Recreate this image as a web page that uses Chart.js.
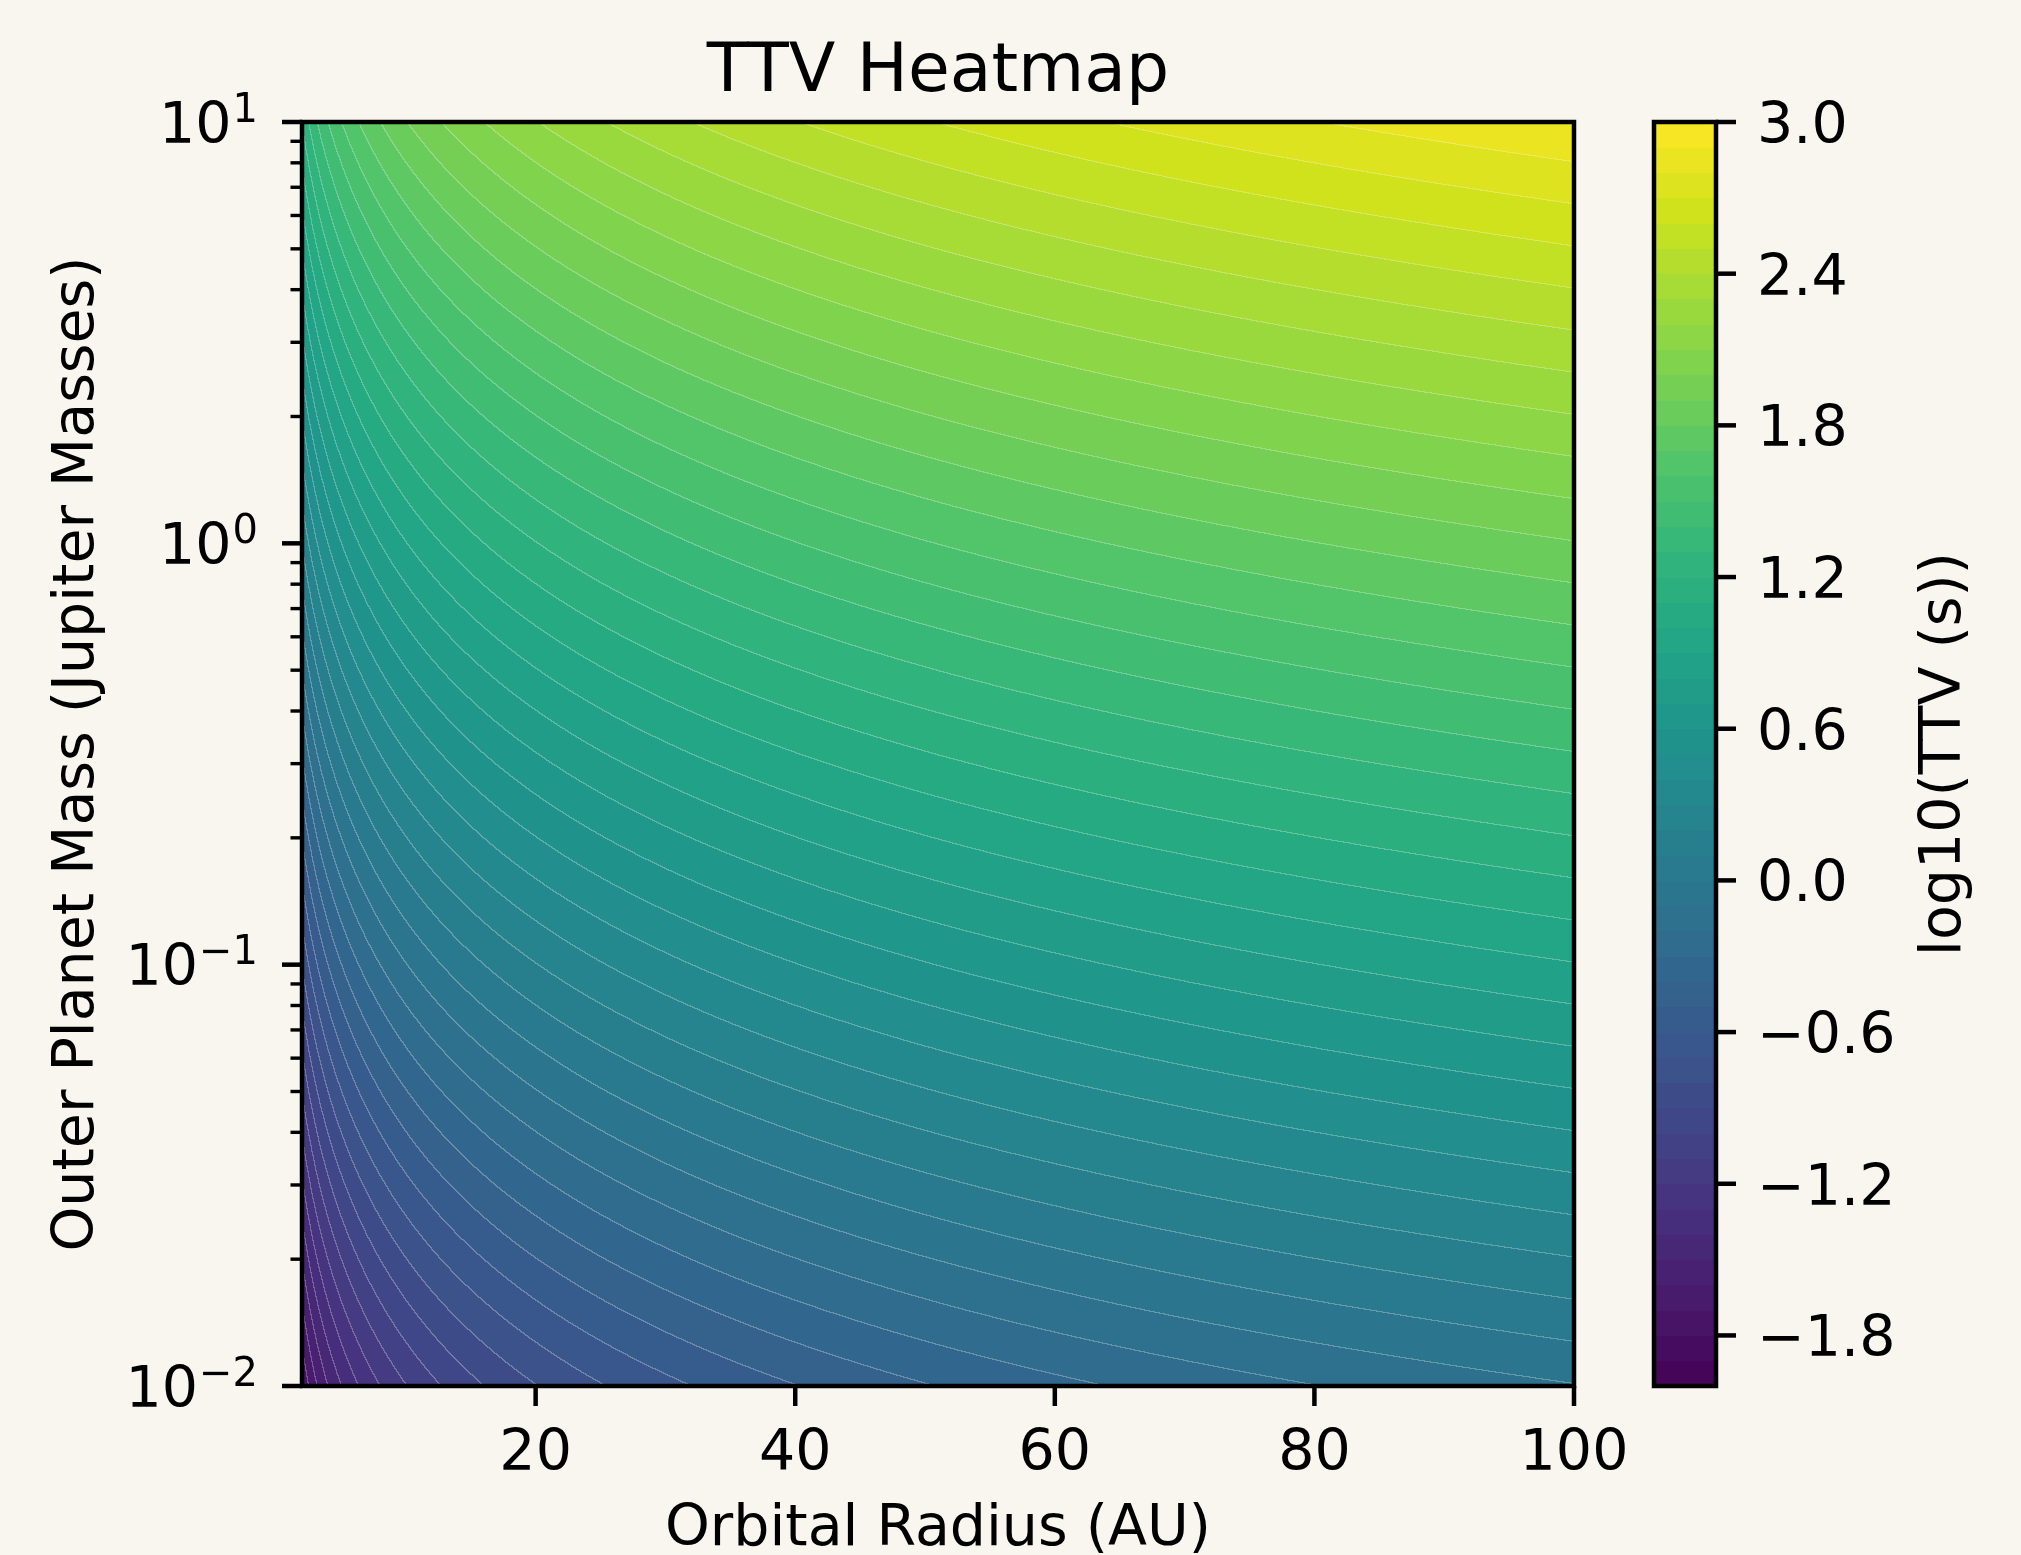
<!DOCTYPE html>
<html><head><meta charset="utf-8">
<script src="https://cdn.jsdelivr.net/npm/chart.js@4.4.1/dist/chart.umd.min.js"></script>
<style>html,body{margin:0;padding:0;background:#f9f6f0;}canvas{display:block;}</style>
</head><body>
<canvas id="c" width="2021" height="1555" style="width:2021px;height:1555px"></canvas>
<script>
// ---- data (log10 TTV in seconds) ----
const radiiAU = [2, 3, 4, 5, 6, 8, 10, 13, 16, 20, 25, 30, 35, 40, 50, 60, 70, 80, 90, 100];
const massesMJ = [0.01, 0.1, 1, 10];
const logTTV_m0_01 = [-1.804, -1.628, -1.503, -1.406, -1.327, -1.202, -1.105, -0.991, -0.901, -0.804, -0.707, -0.628, -0.561, -0.503, -0.406, -0.327, -0.260, -0.202, -0.151, -0.105];
const logTTV_m0_1  = [-0.804, -0.628, -0.503, -0.406, -0.327, -0.202, -0.105, 0.009, 0.099, 0.196, 0.293, 0.372, 0.439, 0.497, 0.594, 0.673, 0.740, 0.798, 0.849, 0.895];
const logTTV_m1    = [0.196, 0.372, 0.497, 0.594, 0.673, 0.798, 0.895, 1.009, 1.099, 1.196, 1.293, 1.372, 1.439, 1.497, 1.594, 1.673, 1.740, 1.798, 1.849, 1.895];
const logTTV_m10   = [1.196, 1.372, 1.497, 1.594, 1.673, 1.798, 1.895, 2.009, 2.099, 2.196, 2.293, 2.372, 2.439, 2.497, 2.594, 2.673, 2.740, 2.798, 2.849, 2.895];
const xTicks = [20, 40, 60, 80, 100];
const xTickLabels = ['20', '40', '60', '80', '100'];
const yMajorTicks = [0.01, 0.1, 1, 10];
const yMajorExponents = ['\u22122', '\u22121', '0', '1'];
const yMinorTicks = [0.02,0.03,0.04,0.05,0.06,0.07,0.08,0.09, 0.2,0.3,0.4,0.5,0.6,0.7,0.8,0.9, 2,3,4,5,6,7,8,9];
const cbTicks = [-1.8, -1.2, -0.6, 0.0, 0.6, 1.2, 1.8, 2.4, 3.0];
const cbTickLabels = ['\u22121.8', '\u22121.2', '\u22120.6', '0.0', '0.6', '1.2', '1.8', '2.4', '3.0'];
const levelMin = -2.0, levelMax = 3.0, nBands = 50;

const TITLE = 'TTV Heatmap';
const XLABEL = 'Orbital Radius (AU)';
const YLABEL = 'Outer Planet Mass (Jupiter Masses)';
const CBLABEL = 'log10(TTV (s))';

// ---- style ----
const BG = '#f9f6f0';
const FONT = '"DejaVu Sans", sans-serif';
const viridisStops = ['#440154','#481a6c','#472f7d','#414487','#39568c','#31688e','#2a788e','#23888e','#1f988b','#22a884','#35b779','#54c568','#7ad151','#a5db36','#d2e21b','#fde725'];
function hex2rgb(h){return [parseInt(h.slice(1,3),16),parseInt(h.slice(3,5),16),parseInt(h.slice(5,7),16)];}
const vStops = viridisStops.map(hex2rgb);
function viridis(t){
  t = Math.max(0, Math.min(1, t));
  const f = t * (vStops.length - 1); const i = Math.min(vStops.length - 2, Math.floor(f)); const u = f - i;
  return [0,1,2].map(k => Math.round(vStops[i][k] + (vStops[i+1][k] - vStops[i][k]) * u));
}
const bandColors = [];
for (let i = 0; i < nBands; i++) bandColors.push(viridis((i + 0.5) / nBands));
const bgRGB = hex2rgb(BG);

const CB = {left: 1654, right: 1716};

const heatPlugin = {
  id: 'heat',
  beforeDraw(chart) {
    const ctx = chart.ctx;
    ctx.save(); ctx.fillStyle = BG; ctx.fillRect(0, 0, chart.width, chart.height); ctx.restore();
  },
  afterDraw(chart) {
    const ctx = chart.ctx;
    const xs = chart.scales.x, ys = chart.scales.y, cs = chart.scales.cb;
    const L = Math.round(chart.chartArea.left), T = Math.round(chart.chartArea.top);
    const R = Math.round(chart.chartArea.right), B = Math.round(chart.chartArea.bottom);
    const W = R - L, H = B - T;
    const lr = radiiAU.map(Math.log10), lmv = massesMJ.map(Math.log10);
    const rows = [logTTV_m0_01, logTTV_m0_1, logTTV_m1, logTTV_m10];
    function locate(arr, v) {
      let i = 0; while (i < arr.length - 2 && v > arr[i+1]) i++;
      let t = (v - arr[i]) / (arr[i+1] - arr[i]); t = Math.max(0, Math.min(1, t));
      return [i, t];
    }
    const ci = new Int32Array(W), ct = new Float64Array(W);
    for (let px = 0; px < W; px++) { const [i,t] = locate(lr, Math.log10(xs.getValueForPixel(L + px + 0.5))); ci[px] = i; ct[px] = t; }
    const ri = new Int32Array(H), rt = new Float64Array(H);
    for (let py = 0; py < H; py++) { const [j,t] = locate(lmv, Math.log10(ys.getValueForPixel(T + py + 0.5))); ri[py] = j; rt[py] = t; }
    const band = new Int16Array(W * H);
    for (let py = 0; py < H; py++) {
      const j = ri[py], u = rt[py], r0 = rows[j], r1 = rows[j+1];
      for (let px = 0; px < W; px++) {
        const i = ci[px], t = ct[px];
        const a = r0[i] + (r0[i+1] - r0[i]) * t;
        const b = r1[i] + (r1[i+1] - r1[i]) * t;
        const v = a + (b - a) * u;
        let k = Math.floor((v - levelMin) / (levelMax - levelMin) * nBands);
        band[py * W + px] = Math.max(0, Math.min(nBands - 1, k));
      }
    }
    const img = ctx.createImageData(W, H); const d = img.data;
    for (let py = 0; py < H; py++) for (let px = 0; px < W; px++) {
      const p = py * W + px; const c = bandColors[band[p]];
      let seam = (px < W - 1 && band[p] !== band[p+1]) || (py < H - 1 && band[p] !== band[p+W]);
      const o = p * 4;
      if (seam) { const s = 0.28; d[o]=c[0]+(bgRGB[0]-c[0])*s; d[o+1]=c[1]+(bgRGB[1]-c[1])*s; d[o+2]=c[2]+(bgRGB[2]-c[2])*s; }
      else { d[o]=c[0]; d[o+1]=c[1]; d[o+2]=c[2]; }
      d[o+3] = 255;
    }
    ctx.putImageData(img, L, T);

    ctx.save();
    // colorbar bands
    const step = (levelMax - levelMin) / nBands;
    for (let i = 0; i < nBands; i++) {
      const y0 = cs.getPixelForValue(levelMin + i * step), y1 = cs.getPixelForValue(levelMin + (i + 1) * step);
      const c = bandColors[i];
      ctx.fillStyle = `rgb(${c[0]},${c[1]},${c[2]})`;
      ctx.fillRect(CB.left, Math.floor(y1), CB.right - CB.left, Math.ceil(y0) - Math.floor(y1));
    }
    ctx.strokeStyle = '#000'; ctx.lineWidth = 4.5; ctx.lineCap = 'butt';
    ctx.strokeRect(L, T, W, H);
    ctx.strokeRect(CB.left, T, CB.right - CB.left, H);

    function line(x0,y0,x1,y1,w){ctx.lineWidth=w;ctx.beginPath();ctx.moveTo(x0,y0);ctx.lineTo(x1,y1);ctx.stroke();}
    ctx.fillStyle = '#000';
    // x ticks
    ctx.font = `57px ${FONT}`; ctx.textAlign = 'center'; ctx.textBaseline = 'alphabetic';
    xTicks.forEach((v, k) => {
      const x = xs.getPixelForValue(v);
      line(x, B, x, B + 20, 4.5);
      ctx.fillText(xTickLabels[k], x, 1470);
    });
    // y minor ticks
    yMinorTicks.forEach(v => { const y = ys.getPixelForValue(v); line(L, y, L - 11.5, y, 3.4); });
    // y major ticks + mathtext-like labels
    yMajorTicks.forEach((v, k) => {
      const y = ys.getPixelForValue(v);
      line(L, y, L - 20, y, 4.5);
      ctx.font = `40px ${FONT}`; const we = ctx.measureText(yMajorExponents[k]).width;
      ctx.font = `57px ${FONT}`; const wb = ctx.measureText('10').width;
      const xr = 258;
      ctx.textAlign = 'left';
      ctx.fillText('10', xr - we - wb - 1, y + 20.5);
      ctx.font = `40px ${FONT}`;
      ctx.fillText(yMajorExponents[k], xr - we, y - 0.5);
    });
    // colorbar ticks
    ctx.font = `57px ${FONT}`; ctx.textAlign = 'left';
    cbTicks.forEach((v, k) => {
      const y = cs.getPixelForValue(v);
      line(CB.right, y, CB.right + 20, y, 4.5);
      ctx.fillText(cbTickLabels[k], 1757, y + 21);
    });
    // title and labels
    ctx.textAlign = 'center';
    ctx.font = `68px ${FONT}`;
    ctx.fillText(TITLE, (L + R) / 2, 91);
    ctx.font = `57px ${FONT}`;
    ctx.fillText(XLABEL, (L + R) / 2, 1545);
    ctx.save(); ctx.translate(93, (T + B) / 2); ctx.rotate(-Math.PI / 2); ctx.fillText(YLABEL, 0, 0); ctx.restore();
    ctx.save(); ctx.translate(1960, (T + B) / 2); ctx.rotate(-Math.PI / 2); ctx.fillText(CBLABEL, 0, 0); ctx.restore();
    ctx.restore();
  }
};

new Chart(document.getElementById('c'), {
  type: 'scatter',
  data: { datasets: [{ label: 'grid', data: [], pointRadius: 0 }] },
  options: {
    responsive: false, animation: false, devicePixelRatio: 1,
    layout: { padding: { left: 302, top: 122, right: 2021 - 1574, bottom: 1555 - 1386 } },
    plugins: { legend: { display: false }, tooltip: { enabled: false }, title: { display: false } },
    scales: {
      x: { type: 'linear', min: 2, max: 100, display: false },
      y: { type: 'logarithmic', min: 0.01, max: 10, display: false },
      cb: { type: 'linear', axis: 'y', min: levelMin, max: levelMax, display: false }
    }
  },
  plugins: [heatPlugin]
});
</script>
</body></html>
